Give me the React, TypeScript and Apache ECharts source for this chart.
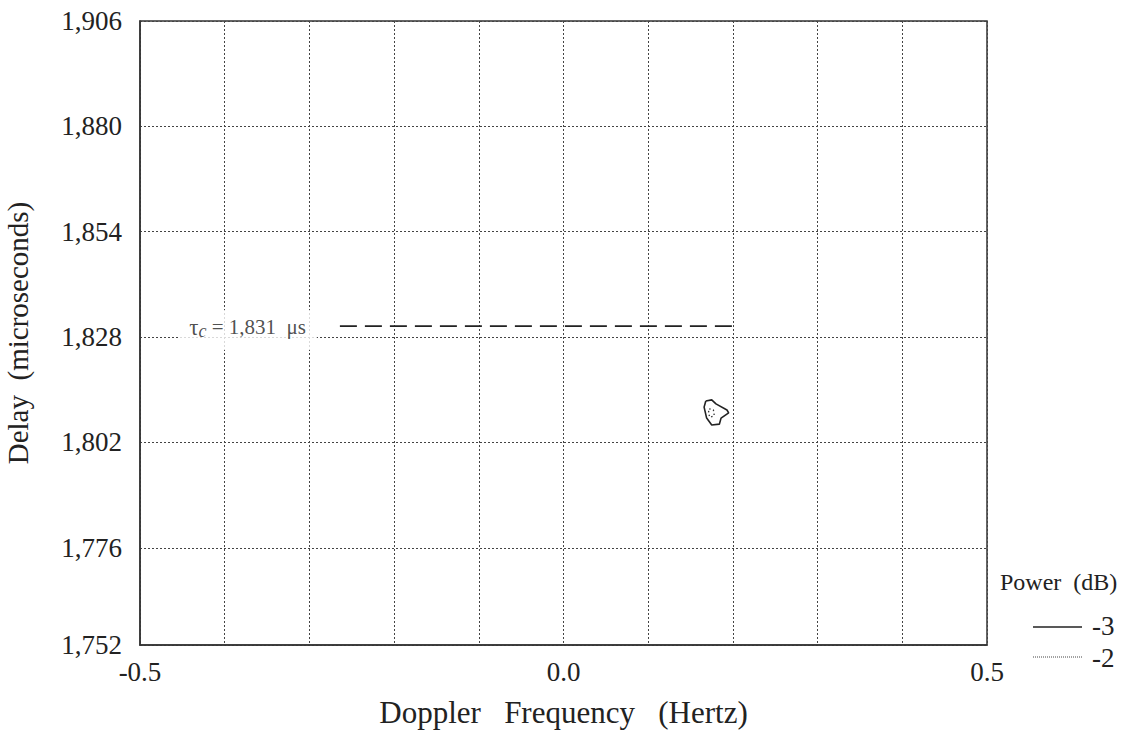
import React, { useEffect, useRef } from "react";
import * as echarts from "echarts";

const xTickLabels: Record<string, string> = { "-0.5": "-0.5", "0": "0.0", "0.5": "0.5" };
const yMin = 1752;
const yMax = 1906;
const yTicks = [1752, 1776, 1802, 1828, 1854, 1880, 1906];

// -3 dB contour (solid)
const contour3: [number, number][] = [
  [0.168, 1812.2],
  [0.175, 1812.5],
  [0.18, 1811.5],
  [0.193, 1810.0],
  [0.195, 1809.3],
  [0.186, 1808.0],
  [0.184, 1806.5],
  [0.175, 1806.3],
  [0.169, 1808.0],
  [0.166, 1810.7],
  [0.168, 1812.2],
];

// -2 dB contour (dotted)
const contour2: [number, number][] = [
  [0.172, 1810.3],
  [0.177, 1810.0],
  [0.178, 1808.6],
  [0.173, 1808.2],
  [0.171, 1809.2],
  [0.172, 1810.3],
];

// Coherence delay line
const tauLine: [number, number][] = [
  [-0.264, 1830.7],
  [0.208, 1830.7],
];
const tauLabelPos: [number, number] = [-0.373, 1828];

const FONT = "'Liberation Serif', 'Times New Roman', serif";
const INK = "#222";

export default function App() {
  const ref = useRef<HTMLDivElement>(null);
  useEffect(() => {
    if (!ref.current) return;
    const chart = echarts.init(ref.current, undefined, { renderer: "svg" });
    chart.setOption({
      animation: false,
      backgroundColor: "#fff",
      textStyle: { fontFamily: FONT, color: INK },
      grid: {
        left: 140,
        right: 145,
        top: 21,
        bottom: 93,
        containLabel: false,
        outerBoundsMode: "none",
        show: true,
        borderColor: "#333",
        borderWidth: 1.5,
        backgroundColor: "transparent",
      },
      xAxis: {
        type: "value",
        min: -0.5,
        max: 0.5,
        interval: 0.1,
        name: "Doppler   Frequency   (Hertz)",
        nameLocation: "middle",
        nameGap: 52,
        nameTextStyle: { fontFamily: FONT, fontSize: 31, color: INK },
        axisLine: { show: true, onZero: false, lineStyle: { color: "#333", width: 1.5 } },
        axisTick: { show: false },
        axisLabel: {
          fontFamily: FONT,
          fontSize: 27,
          color: INK,
          margin: 13,
          showMinLabel: true,
          showMaxLabel: true,
          formatter: (v: number) => {
            const k = String(Math.round(v * 10) / 10);
            return xTickLabels[k] ?? "";
          },
        },
        splitLine: { show: true, lineStyle: { color: "#444", width: 1, type: [2, 2] } },
      },
      yAxis: {
        type: "value",
        min: yMin,
        max: yMax,
        name: "Delay  (microseconds)",
        nameLocation: "middle",
        nameGap: 108,
        nameTextStyle: { fontFamily: FONT, fontSize: 29, color: INK },
        axisLine: { show: true, onZero: false, lineStyle: { color: "#333", width: 1.5 } },
        axisTick: { show: false, customValues: yTicks },
        axisLabel: {
          fontFamily: FONT,
          fontSize: 27,
          color: INK,
          margin: 18,
          customValues: yTicks,
          formatter: (v: number) => v.toLocaleString("en-US"),
        },
        splitLine: { show: true, lineStyle: { color: "#444", width: 1, type: [2, 2] } },
      },
      series: [
        {
          type: "line",
          data: tauLine,
          symbol: "none",
          lineStyle: { color: "#222", width: 1.8, type: [17, 8] },
          z: 3,
        },
        {
          type: "scatter",
          data: [tauLabelPos],
          symbolSize: 0,
          z: 4,
          label: {
            show: true,
            position: "inside",
            offset: [0, -7],
            formatter: "{t|τ}{c|c}{n| = 1,831  μs}",
            backgroundColor: "#fff",
            padding: [4, 11, 10, 11],
            rich: {
              t: { fontFamily: FONT, fontSize: 23, color: INK },
              c: { fontFamily: FONT, fontSize: 18, fontStyle: "italic", color: INK, padding: [8, 0, 0, 0] },
              n: { fontFamily: FONT, fontSize: 21, color: INK },
            },
          },
        },
        {
          type: "line",
          data: contour3,
          symbol: "none",
          lineStyle: { color: "#222", width: 1.6 },
          z: 3,
        },
        {
          type: "line",
          data: contour2,
          symbol: "none",
          lineStyle: { color: "#333", width: 1.3, type: [1.5, 2.5] },
          z: 3,
        },
      ],
      graphic: [
        {
          type: "text",
          left: 1000,
          top: 570,
          style: { text: "Power  (dB)", font: `24px ${FONT}`, fill: INK },
        },
        {
          type: "line",
          shape: { x1: 1033, y1: 627, x2: 1082, y2: 627 },
          style: { stroke: "#222", lineWidth: 1.4 },
        },
        {
          type: "text",
          left: 1092,
          top: 612,
          style: { text: "-3", font: `27px ${FONT}`, fill: INK },
        },
        {
          type: "line",
          shape: { x1: 1033, y1: 657, x2: 1082, y2: 657 },
          style: { stroke: "#444", lineWidth: 1, lineDash: [1, 1] },
        },
        {
          type: "text",
          left: 1092,
          top: 644,
          style: { text: "-2", font: `27px ${FONT}`, fill: INK },
        },
      ],
    });
    return () => chart.dispose();
  }, []);
  return <div ref={ref} style={{ width: 1132, height: 738, position: "absolute", left: 0, top: 0 }} />;
}
